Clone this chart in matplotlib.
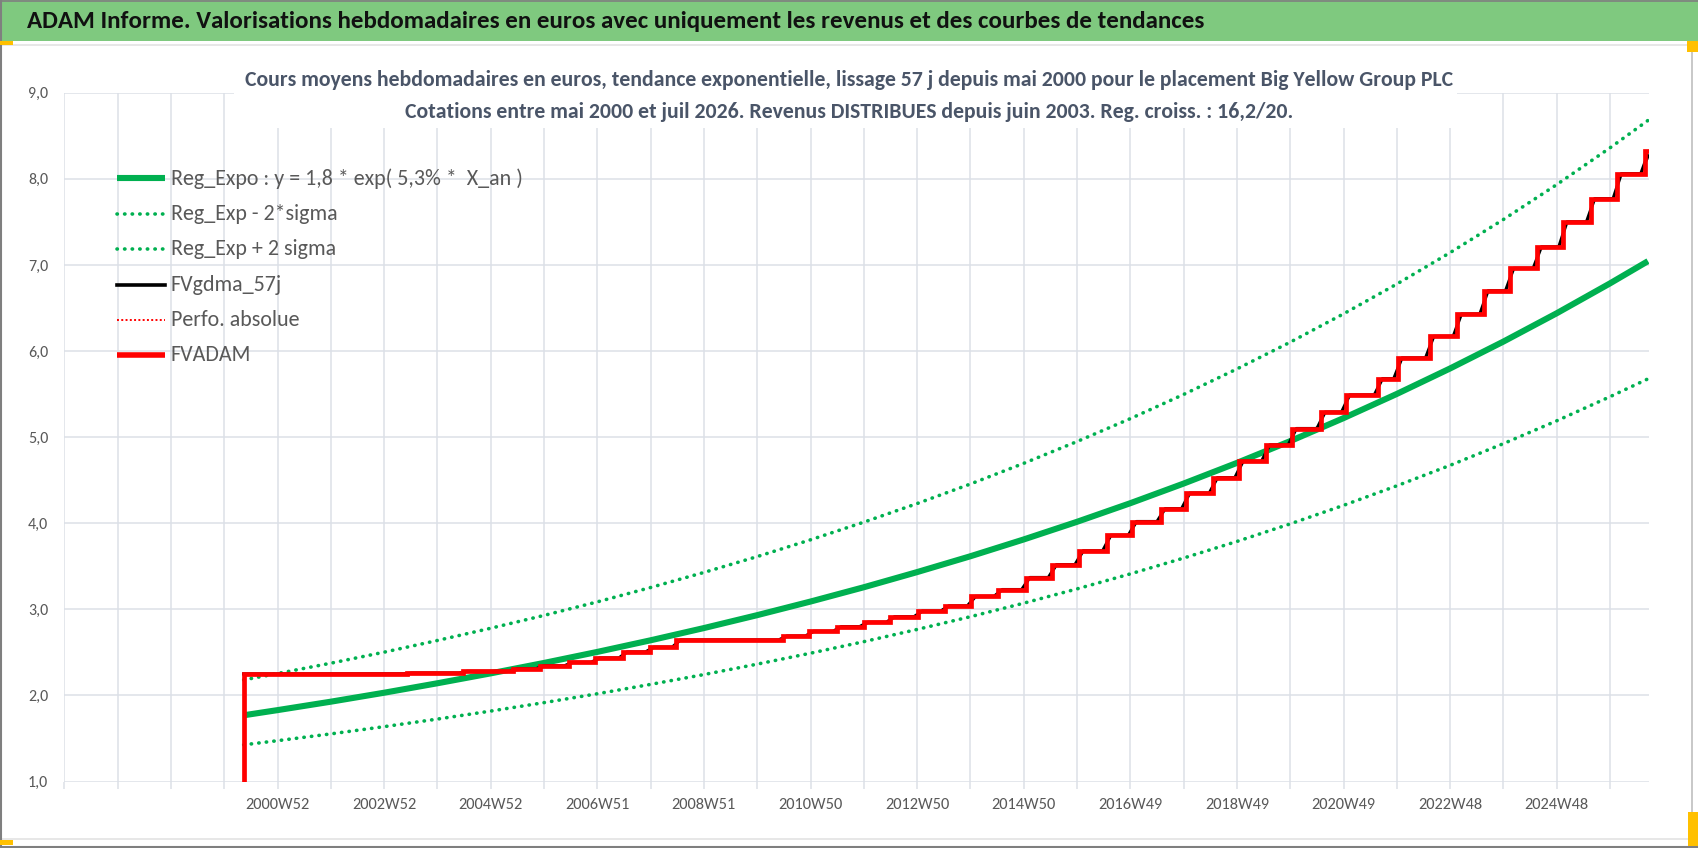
import matplotlib
matplotlib.use("Agg")
import matplotlib.pyplot as plt
from matplotlib import font_manager
from matplotlib.lines import Line2D
from matplotlib.patches import Rectangle
import numpy as np
import pandas as pd

# ---------------- data ----------------
# x = week index on the category axis (0 = left edge, one category per week)
tick_weeks = [208, 312, 416, 520, 624, 728, 832, 936, 1040, 1144, 1248, 1352, 1456]
tick_labels = ["2000W52", "2002W52", "2004W52", "2006W51", "2008W51", "2010W50",
               "2012W50", "2014W50", "2016W49", "2018W49", "2020W49", "2022W48", "2024W48"]
n_weeks = 1546

trend_weeks = [175, 208, 260, 312, 364, 416, 468, 520, 572, 624, 676, 728, 780, 832,
               884, 936, 988, 1040, 1092, 1144, 1196, 1248, 1300, 1352, 1404, 1456, 1508, 1545]
reg_expo = [1.770, 1.830, 1.928, 2.032, 2.142, 2.257, 2.378, 2.506, 2.641, 2.783, 2.933,
            3.091, 3.257, 3.433, 3.617, 3.812, 4.017, 4.233, 4.461, 4.701, 4.954, 5.221,
            5.502, 5.798, 6.110, 6.439, 6.786, 7.044]
reg_minus = [1.427, 1.475, 1.554, 1.638, 1.726, 1.819, 1.917, 2.020, 2.129, 2.243, 2.364,
             2.491, 2.625, 2.767, 2.915, 3.072, 3.238, 3.412, 3.596, 3.789, 3.993, 4.208,
             4.435, 4.673, 4.925, 5.190, 5.470, 5.677]
reg_plus = [2.181, 2.255, 2.375, 2.503, 2.639, 2.781, 2.930, 3.087, 3.254, 3.429, 3.613,
            3.808, 4.013, 4.229, 4.456, 4.696, 4.949, 5.215, 5.496, 5.792, 6.103, 6.432,
            6.778, 7.143, 7.528, 7.933, 8.360, 8.678]

fvadam_weeks = [174, 175, 334, 389, 438, 464, 492, 518, 545, 571, 597, 701, 727, 754, 780,
                806, 833, 859, 885, 911, 938, 964, 990, 1017, 1042, 1070, 1094, 1121, 1146,
                1172, 1198, 1226, 1250, 1282, 1301, 1332, 1359, 1385, 1410, 1437, 1462,
                1489, 1515, 1542, 1545]
fvadam_values = [0.0, 2.25, 2.26, 2.28, 2.31, 2.345, 2.385, 2.435, 2.505, 2.56, 2.645, 2.69,
                 2.745, 2.80, 2.85, 2.915, 2.98, 3.04, 3.15, 3.23, 3.37, 3.52, 3.68, 3.86,
                 4.02, 4.17, 4.35, 4.53, 4.72, 4.91, 5.10, 5.29, 5.49, 5.68, 5.92, 6.17,
                 6.43, 6.70, 6.96, 7.21, 7.50, 7.77, 8.06, 8.32, 8.32]
perfo_weeks = []
perfo_values = []
smooth_window_weeks = 8   # 57 days

legend_labels = ["Reg_Expo : y = 1,8 * exp( 5,3% *  X_an )", "Reg_Exp - 2*sigma",
                 "Reg_Exp + 2 sigma", "FVgdma_57j", "Perfo. absolue", "FVADAM"]
header = ("ADAM Informe. Valorisations hebdomadaires en euros avec uniquement les revenus "
          "et des courbes de tendances")
title1 = ("Cours moyens hebdomadaires en euros, tendance exponentielle, lissage 57 j depuis "
          "mai 2000 pour le placement Big Yellow Group PLC")
title2 = ("Cotations entre mai 2000 et juil 2026. Revenus DISTRIBUES depuis juin 2003. "
          "Reg. croiss. : 16,2/20.")

# ---------------- styling ----------------
W, H, DPI = 1698, 848, 100


def pick(cands):
    for c in cands:
        try:
            font_manager.findfont(font_manager.FontProperties(family=c),
                                  fallback_to_default=False)
            return c
        except Exception:
            pass
    return "DejaVu Sans"


FONT = pick(["Carlito", "Liberation Sans Narrow", "Lato", "Open Sans"])
plt.rcParams["font.family"] = [FONT, "DejaVu Sans"]

GREEN = "#00B050"
RED = "#FF0000"
GRID = "#DCE0E7"
TICKC = "#595959"
TITLEC = "#4A5568"

fig = plt.figure(figsize=(W / DPI, H / DPI), dpi=DPI)
fig.patch.set_facecolor("white")
renderer = fig.canvas.get_renderer()


def fx(px):
    return px / W


def fy(py):
    return 1 - py / H


def fit(t, target):
    w = t.get_window_extent(renderer).width
    t.set_fontsize(t.get_fontsize() * target / w)
    return t.get_fontsize()


def size_for(s, target, weight="normal"):
    t = fig.text(0, 0, s, fontsize=12, fontweight=weight)
    fs = fit(t, target)
    t.remove()
    return fs


ax = fig.add_axes([fx(64.3), fy(781.6), fx(1649) - fx(64.3), fy(92.7) - fy(781.6)])
ax.set_xlim(0, n_weeks)
ax.set_ylim(1, 9)
for s in ax.spines.values():
    s.set_visible(False)

ax.set_yticks(np.arange(1, 10))
ax.set_yticklabels([f"{v:.1f}".replace(".", ",") for v in np.arange(1, 10)])
grid_weeks = list(range(0, n_weeks, 52))
lab = dict(zip(tick_weeks, tick_labels))
ax.set_xticks(grid_weeks)
ax.set_xticklabels([lab.get(w, "") for w in grid_weeks])
ax.grid(True, color=GRID, lw=1.1, zorder=0)
ax.set_axisbelow(True)

xfs = size_for("2000W52", 64)
yfs = size_for("9,0", 20)
ax.tick_params(axis="x", length=5, width=1.1, color=GRID, labelcolor=TICKC,
               labelsize=xfs, pad=7)
ax.tick_params(axis="y", length=0, labelcolor=TICKC, labelsize=yfs, pad=11.5)

# series
dots = dict(linestyle=(0, (0.1, 2.0)), dash_capstyle="round", lw=2.6, color=GREEN)
ax.plot(trend_weeks, reg_expo, color=GREEN, lw=4.4, solid_capstyle="butt", zorder=3)
ax.plot(trend_weeks, reg_minus, zorder=3, **dots)
ax.plot(trend_weeks, reg_plus, zorder=3, **dots)

weeks_all = np.arange(fvadam_weeks[1], fvadam_weeks[-1] + 1)
idx = np.searchsorted(fvadam_weeks, weeks_all, side="right") - 1
level = pd.Series(np.asarray(fvadam_values)[idx], index=weeks_all)
smooth = level.rolling(smooth_window_weeks, min_periods=1, center=True).mean()
ax.plot(smooth.index, smooth.values, color="black", lw=2.3, zorder=4)
ax.plot(perfo_weeks, perfo_values, color=RED, lw=1.4, linestyle=(0, (1, 1.2)), zorder=4)
ax.plot(fvadam_weeks, fvadam_values, color=RED, lw=3.4, drawstyle="steps-post",
        solid_joinstyle="miter", zorder=5)

# legend (manual, no frame)
lfs = size_for(legend_labels[0], 352)
styles = [dict(color=GREEN, lw=4.4, solid_capstyle="butt"),
          dots,
          dots,
          dict(color="black", lw=2.6),
          dict(color=RED, lw=1.4, linestyle=(0, (1, 1.2))),
          dict(color=RED, lw=4.0, solid_capstyle="butt")]
for j, (lbl, st) in enumerate(zip(legend_labels, styles)):
    yy = 178.3 + 35.4 * j
    fig.add_artist(Line2D([fx(116.7), fx(165)], [fy(yy), fy(yy)], transform=fig.transFigure,
                          **st))
    fig.text(fx(170.7), fy(yy), lbl, fontsize=lfs, color=TICKC, va="center", ha="left")

# title box over the plot
fig.add_artist(Rectangle((fx(234), fy(128)), fx(1457) - fx(234), fy(58) - fy(128),
                         transform=fig.transFigure, facecolor="white", edgecolor="none",
                         zorder=1))
t1 = fig.text(0.5, fy(80.5), title1, ha="center", va="center", fontweight="bold",
              color=TITLEC, fontsize=12, zorder=3)
tfs = fit(t1, 1204)
fig.text(0.5, fy(112), title2, ha="center", va="center", fontweight="bold",
         color=TITLEC, fontsize=tfs, zorder=3)

# header band
fig.add_artist(Rectangle((0, fy(41)), 1, fy(0) - fy(41), transform=fig.transFigure,
                         facecolor="#7FC97F", edgecolor="none", zorder=1))
th = fig.text(fx(27), fy(22), header, ha="left", va="center", fontweight="bold",
              color="#111111", fontsize=12, zorder=3)
fit(th, 1179)

# frame details
fig.add_artist(Line2D([0, 1], [fy(45), fy(45)], transform=fig.transFigure, color="#E3E3E3",
                      lw=1.2))
fig.add_artist(Line2D([0, fx(1692)], [fy(839), fy(839)], transform=fig.transFigure,
                      color="#E3E3E3", lw=1.2))
fig.add_artist(Line2D([fx(1692), fx(1692)], [fy(45), fy(846)], transform=fig.transFigure,
                      color="#BFBFBF", lw=1.2))
fig.add_artist(Line2D([fx(0.8), fx(0.8)], [0, 1], transform=fig.transFigure,
                      color="#7F7F7F", lw=1.5))
fig.add_artist(Line2D([0, 1], [fy(847), fy(847)], transform=fig.transFigure,
                      color="#7F7F7F", lw=1.5))
fig.add_artist(Line2D([0, 1], [fy(0.5), fy(0.5)], transform=fig.transFigure,
                      color="#7F7F7F", lw=1.2))
for (x0, y0, x1, y1) in [(0, 41, 13, 45), (1687, 41, 1698, 52), (1688, 812, 1698, 846),
                         (0, 840, 13, 845)]:
    fig.add_artist(Rectangle((fx(x0), fy(y1)), fx(x1) - fx(x0), fy(y0) - fy(y1),
                             transform=fig.transFigure, facecolor="#FFC000",
                             edgecolor="none", zorder=2))

fig.savefig("out.png", dpi=DPI)
